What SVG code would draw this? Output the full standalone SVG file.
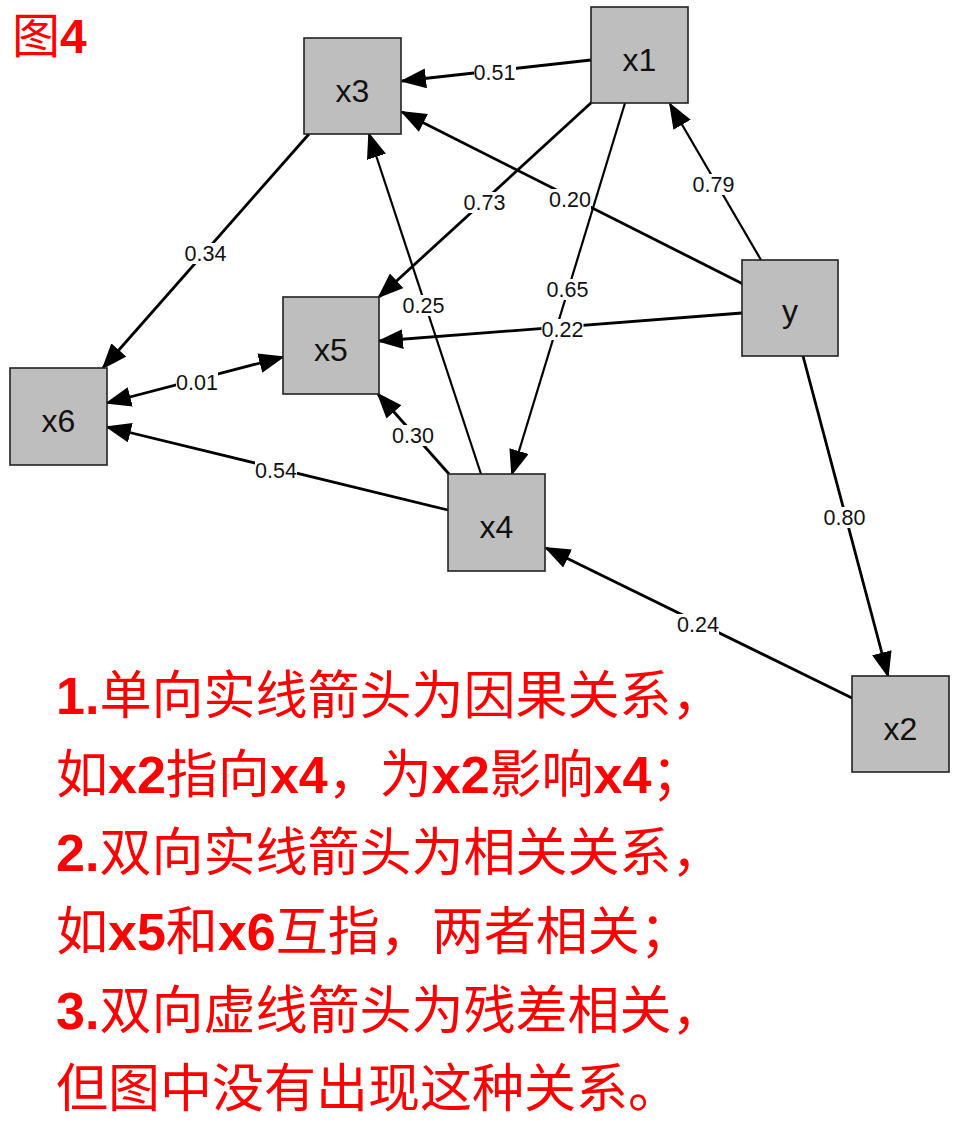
<svg xmlns="http://www.w3.org/2000/svg" width="963" height="1133" viewBox="0 0 963 1133">
<style>
.node rect{fill:#bebebe;stroke:#222;stroke-width:1.6}
.node text{font-family:"Liberation Sans",Arial,sans-serif;font-size:32px;fill:#111;text-anchor:middle}
.e{stroke:#000;stroke-width:2.8;fill:none;marker-end:url(#ah)}
.thin{stroke-width:2.2}
.bi{marker-start:url(#ah)}
.lb{fill:#fff}
.lt{font-family:"Liberation Sans",Arial,sans-serif;font-size:21.5px;fill:#111;text-anchor:middle}
.note{font-family:"Liberation Sans","Noto Sans CJK SC",sans-serif;font-size:52px;fill:#ff0000}
.b{font-weight:bold}
</style>
<defs>
<marker id="ah" markerUnits="userSpaceOnUse" markerWidth="27" markerHeight="20" refX="24" refY="10" orient="auto-start-reverse">
<path d="M0,0 L26,10 L0,20 Z" fill="#000"/>
</marker>
</defs>
<rect width="963" height="1133" fill="#fff"/>
<text x="12" y="53" font-family="Liberation Sans,'Noto Sans CJK SC',sans-serif" font-size="48" fill="#ff0000">图<tspan font-weight="bold">4</tspan></text>

<g id="connectors">
<g id="e-x1-x3"><line class="e" x1="591" y1="60" x2="402" y2="81"/><rect class="lb" x="474" y="62" width="42" height="21"/><text class="lt" x="494.5" y="80">0.51</text></g>
<g id="e-y-x1"><line class="e thin" x1="761" y1="260" x2="670" y2="104"/><rect class="lb" x="692.5" y="174" width="42" height="21"/><text class="lt" x="713.5" y="192">0.79</text></g>
<g id="e-y-x3"><line class="e" x1="743" y1="284" x2="402" y2="112"/><rect class="lb" x="549" y="189" width="42" height="21"/><text class="lt" x="570" y="207">0.20</text></g>
<g id="e-x1-x5"><line class="e" x1="592" y1="102" x2="379" y2="297"/><rect class="lb" x="463.5" y="192" width="42" height="21"/><text class="lt" x="484.5" y="210">0.73</text></g>
<g id="e-x1-x4"><line class="e thin" x1="625" y1="103" x2="512" y2="474"/><rect class="lb" x="546.5" y="279" width="42" height="21"/><text class="lt" x="567.5" y="297">0.65</text></g>
<g id="e-y-x5"><line class="e" x1="742" y1="313" x2="379" y2="341"/><rect class="lb" x="541.5" y="319" width="42" height="21"/><text class="lt" x="562.5" y="337">0.22</text></g>
<g id="e-x4-x3"><line class="e thin" x1="481" y1="474" x2="369" y2="134"/><rect class="lb" x="402.5" y="295" width="42" height="21"/><text class="lt" x="423.5" y="313">0.25</text></g>
<g id="e-x3-x6"><line class="e" x1="309" y1="134" x2="103" y2="368"/><rect class="lb" x="184.5" y="243" width="42" height="21"/><text class="lt" x="205.5" y="261">0.34</text></g>
<g id="e-x5-x6"><line class="e bi" x1="283" y1="357" x2="107" y2="403"/><rect class="lb" x="176" y="372" width="42" height="21"/><text class="lt" x="197" y="390">0.01</text></g>
<g id="e-x4-x5"><line class="e" x1="449" y1="474" x2="378" y2="394"/><rect class="lb" x="392" y="425" width="42" height="21"/><text class="lt" x="413" y="443">0.30</text></g>
<g id="e-x4-x6"><line class="e" x1="448" y1="510" x2="107" y2="427"/><rect class="lb" x="255" y="460" width="42" height="21"/><text class="lt" x="276" y="478">0.54</text></g>
<g id="e-y-x2"><line class="e" x1="803" y1="356" x2="888" y2="676"/><rect class="lb" x="823.5" y="507" width="42" height="21"/><text class="lt" x="844.5" y="525">0.80</text></g>
<g id="e-x2-x4"><line class="e" x1="852" y1="698" x2="546" y2="548"/><rect class="lb" x="677" y="614" width="42" height="21"/><text class="lt" x="698" y="632">0.24</text></g>
</g>

<g id="x1" class="node"><rect x="591" y="7" width="97" height="96"/><text x="639.5" y="71">x1</text></g>
<g id="x3" class="node"><rect x="304" y="38" width="97" height="96"/><text x="352.5" y="102">x3</text></g>
<g id="y" class="node"><rect x="742" y="260" width="96" height="96"/><text x="790" y="322">y</text></g>
<g id="x5" class="node"><rect x="283" y="297" width="96" height="97"/><text x="331" y="361">x5</text></g>
<g id="x6" class="node"><rect x="10" y="368" width="97" height="97"/><text x="58.5" y="432">x6</text></g>
<g id="x4" class="node"><rect x="448" y="474" width="97" height="97"/><text x="496.5" y="538">x4</text></g>
<g id="x2" class="node"><rect x="852" y="676" width="97" height="96"/><text x="900.5" y="740">x2</text></g>

<g id="notes" class="note">
<text x="56" y="714"><tspan class="b">1.</tspan>单向实线箭头为因果关系，</text>
<text x="56" y="793">如<tspan class="b">x2</tspan>指向<tspan class="b">x4</tspan>，为<tspan class="b">x2</tspan>影响<tspan class="b">x4</tspan>；</text>
<text x="56" y="871"><tspan class="b">2.</tspan>双向实线箭头为相关关系，</text>
<text x="56" y="950">如<tspan class="b">x5</tspan>和<tspan class="b">x6</tspan>互指，两者相关；</text>
<text x="56" y="1029"><tspan class="b">3.</tspan>双向虚线箭头为残差相关，</text>
<text x="56" y="1107">但图中没有出现这种关系。</text>
</g>
</svg>
